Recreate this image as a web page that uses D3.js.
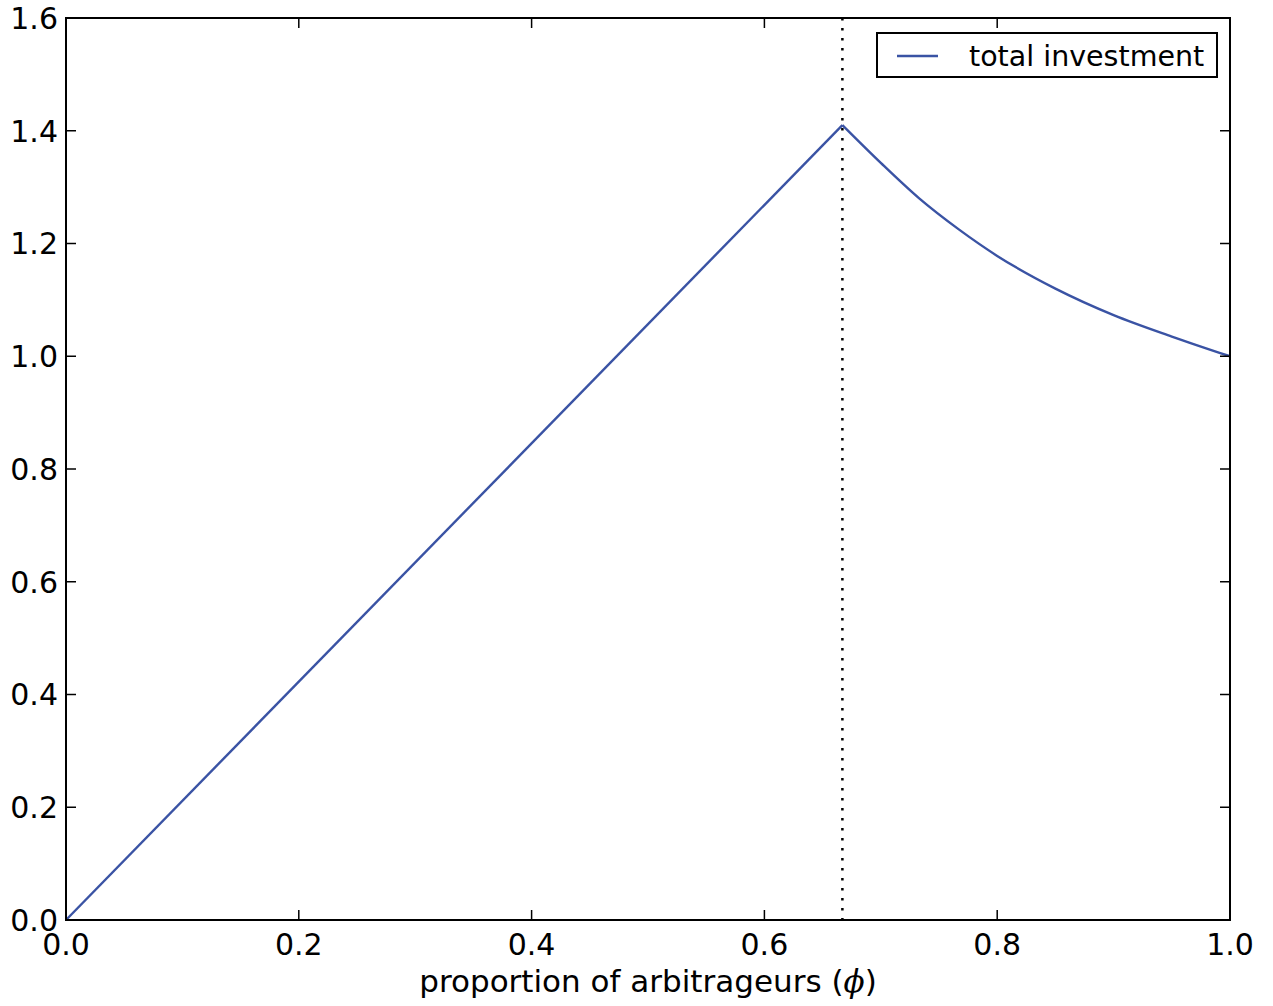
<!DOCTYPE html>
<html>
<head>
<meta charset="utf-8">
<script src="https://cdn.jsdelivr.net/npm/d3@7"></script>
<style>
  html, body { margin: 0; padding: 0; background: #fff; }
  svg { display: block; font-family: "DejaVu Sans", sans-serif; }
</style>
</head>
<body>
<div id="chart"></div>
<script>
// values
var phi = [0, 0.667, 0.70, 0.733, 0.767, 0.80, 0.85, 0.90, 0.95, 1.0];
var totalInvestment = [0, 1.41, 1.343, 1.280, 1.225, 1.178, 1.120, 1.073, 1.035, 1.0];
var threshold = 0.667;
var xTicks = [0, 0.2, 0.4, 0.6, 0.8, 1.0];
var yTicks = [0, 0.2, 0.4, 0.6, 0.8, 1.0, 1.2, 1.4, 1.6];
var seriesName = 'total investment';
var xLabel = 'proportion of arbitrageurs (';

var width = 1273, height = 1006;
var margin = {left: 66, right: 43, top: 18, bottom: 86};
var tickFont = 30, labelFont = 31, legendFont = 28.5;
var blue = '#3a53a4';

var svg = d3.select('#chart').append('svg')
    .attr('width', width)
    .attr('height', height);

var x = d3.scaleLinear().domain([0, 1]).range([margin.left, width - margin.right]);
var y = d3.scaleLinear().domain([0, 1.6]).range([height - margin.bottom, margin.top]);

var data = phi.map(function(p, i) { return {x: p, y: totalInvestment[i]}; });

// threshold line
svg.append('line')
    .attr('x1', x(threshold)).attr('x2', x(threshold))
    .attr('y1', y(1.6)).attr('y2', y(0))
    .attr('stroke', '#000')
    .attr('stroke-width', 2.5)
    .attr('stroke-dasharray', '2.5,7.5');

// curve: straight up to the peak, smooth after it
var line = d3.line()
    .x(function(d) { return x(d.x); })
    .y(function(d) { return y(d.y); });
var smooth = d3.line()
    .x(function(d) { return x(d.x); })
    .y(function(d) { return y(d.y); })
    .curve(d3.curveMonotoneX);

svg.append('path')
    .attr('d', line(data.slice(0, 2)))
    .attr('fill', 'none')
    .attr('stroke', blue)
    .attr('stroke-width', 2.4);
svg.append('path')
    .attr('d', smooth(data.slice(1)))
    .attr('fill', 'none')
    .attr('stroke', blue)
    .attr('stroke-width', 2.4);

// ticks (inward, all four sides)
var tickLen = 10;
var axes = svg.append('g').attr('stroke', '#000').attr('stroke-width', 1.5);
xTicks.forEach(function(t) {
  axes.append('line').attr('x1', x(t)).attr('x2', x(t))
      .attr('y1', y(0)).attr('y2', y(0) - tickLen);
  axes.append('line').attr('x1', x(t)).attr('x2', x(t))
      .attr('y1', y(1.6)).attr('y2', y(1.6) + tickLen);
});
yTicks.forEach(function(t) {
  axes.append('line').attr('x1', x(0)).attr('x2', x(0) + tickLen)
      .attr('y1', y(t)).attr('y2', y(t));
  axes.append('line').attr('x1', x(1)).attr('x2', x(1) - tickLen)
      .attr('y1', y(t)).attr('y2', y(t));
});

svg.append('rect')
    .attr('x', x(0)).attr('y', y(1.6))
    .attr('width', x(1) - x(0)).attr('height', y(0) - y(1.6))
    .attr('fill', 'none')
    .attr('stroke', '#000')
    .attr('stroke-width', 2);

svg.selectAll('.xtick')
    .data(xTicks)
  .enter().append('text')
    .attr('class', 'xtick')
    .attr('x', function(d) { return x(d); })
    .attr('y', y(0) + 35)
    .attr('text-anchor', 'middle')
    .attr('font-size', tickFont)
    .text(function(d) { return d3.format('.1f')(d); });

svg.selectAll('.ytick')
    .data(yTicks)
  .enter().append('text')
    .attr('class', 'ytick')
    .attr('x', x(0) - 8)
    .attr('y', function(d) { return y(d); })
    .attr('dy', '0.36em')
    .attr('text-anchor', 'end')
    .attr('font-size', tickFont)
    .text(function(d) { return d3.format('.1f')(d); });

var xl = svg.append('text')
    .attr('x', (x(0) + x(1)) / 2)
    .attr('y', y(0) + 72)
    .attr('text-anchor', 'middle')
    .attr('font-size', labelFont);
xl.append('tspan').text(xLabel);
xl.append('tspan').attr('font-family', 'DejaVu Serif').attr('font-style', 'italic').text('\u03D5');
xl.append('tspan').text(')');

// legend
var legend = svg.append('g').attr('transform', 'translate(877,33)');
legend.append('rect')
    .attr('width', 340).attr('height', 44)
    .attr('fill', '#fff')
    .attr('stroke', '#000')
    .attr('stroke-width', 2);
legend.append('line')
    .attr('x1', 20).attr('x2', 61)
    .attr('y1', 23).attr('y2', 23)
    .attr('stroke', blue)
    .attr('stroke-width', 2.4);
legend.append('text')
    .attr('x', 92).attr('y', 23)
    .attr('dy', '0.36em')
    .attr('font-size', legendFont)
    .text(seriesName);
</script>
</body>
</html>
